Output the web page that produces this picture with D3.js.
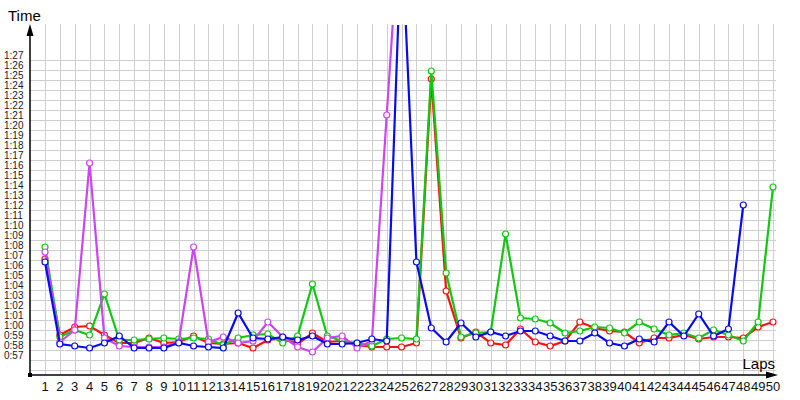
<!DOCTYPE html>
<html>
<head>
<meta charset="utf-8">
<script src="https://cdn.jsdelivr.net/npm/d3@7"></script>
<style>
  html, body { margin: 0; padding: 0; background: #fff; }
  svg { display: block; }
</style>
</head>
<body>
<svg id="chart" width="800" height="400"></svg>
<script>
// ---- data (lap times in seconds) ----
const laps = d3.range(1, 51);
const yTickValues = d3.range(57, 88); // 0:57 .. 1:27

const redTimes = [67.1, 59.5, 60.3, 60.4, 59.5, 58.7, 58.7, 59.2, 58.7, 58.8,
  59.4, 58.7, 58.6, 58.7, 58.2, 59.0, 59.2, 58.6, 59.7, 58.8,
  58.9, 58.5, 58.3, 58.3, 58.3, 58.7, 85.1, 63.9, 59.2, 59.8,
  58.7, 58.5, 60.1, 58.8, 58.4, 58.9, 60.8, 60.2, 59.9, 59.8,
  58.7, 59.2, 59.2, 59.5, 59.1, 59.3, 59.3, 59.2, 60.3, 60.8];
const greenTimes = [68.3, 59.3, 60.0, 59.5, 63.6, 59.0, 59.0, 59.1, 59.2, 59.1,
  59.2, 59.1, 58.5, 59.2, 59.5, 59.6, 58.7, 59.4, 64.6, 59.4,
  58.9, 58.7, 58.4, 59.1, 59.2, 59.1, 85.9, 65.7, 59.3, 59.7,
  59.8, 69.6, 61.2, 61.1, 60.7, 59.7, 59.9, 60.3, 60.2, 59.7,
  60.8, 60.1, 59.5, 59.7, 59.2, 60.0, 59.5, 58.9, 60.8, 74.3];
const purpleTimes = [67.8, 58.8, 60.0, 76.7, 59.2, 58.4, 58.3, 58.3, 58.3, 58.8,
  68.3, 58.8, 59.3, 58.7, 58.9, 60.8, 59.3, 58.3, 57.8, 59.2,
  59.4, 58.2, 58.9, 81.5, 104.0];
const blueTimes = [66.8, 58.6, 58.4, 58.2, 58.7, 59.4, 58.2, 58.2, 58.2, 58.7,
  58.4, 58.3, 58.2, 61.7, 59.2, 59.1, 59.3, 59.0, 59.4, 58.6,
  58.6, 58.7, 59.1, 58.9, 100.0, 66.8, 60.2, 58.8, 60.7, 59.3,
  59.8, 59.4, 59.9, 59.9, 59.4, 58.9, 58.9, 59.7, 58.7, 58.4,
  59.1, 58.8, 60.8, 59.4, 61.6, 59.4, 60.1, 72.5];

const seriesNames = ["red", "green", "purple", "blue"];
const seriesColors = ["#ff1010", "#10c810", "#cc44f4", "#0a0af0"];
const seriesValues = [redTimes, greenTimes, purpleTimes, blueTimes];

// ---- layout ----
const svg = d3.select("#chart");
const x = d3.scaleLinear().domain([1, 50]).range([45, 773]);
const y = d3.scaleLinear().domain([57, 87]).range([360, 60]);
const axisX = 30, axisY = 375, topY = 24, rightX = 778;

const fmt = v => `${Math.floor(v / 60)}:${String(v % 60).padStart(2, "0")}`;

// grid
const grid = svg.append("g").attr("stroke", "#cfcfcf").attr("stroke-width", 1).attr("shape-rendering", "crispEdges");
grid.selectAll("line.h").data(d3.range(56, 88)).join("line")
  .attr("x1", axisX).attr("x2", 776)
  .attr("y1", d => y(d)).attr("y2", d => y(d));
grid.selectAll("line.v").data(laps).join("line")
  .attr("x1", d => Math.round(x(d))).attr("x2", d => Math.round(x(d)))
  .attr("y1", topY).attr("y2", axisY);

// y tick labels
svg.append("g").selectAll("text").data(yTickValues).join("text")
  .attr("x", 4).attr("y", d => y(d) - 1.5)
  .attr("font-family", "Liberation Sans, Arial, sans-serif")
  .attr("font-size", 10).attr("fill", "#1a1a2a")
  .text(fmt);

// x tick labels
svg.append("g").selectAll("text").data(laps).join("text")
  .attr("x", d => x(d)).attr("y", 391)
  .attr("text-anchor", "middle")
  .attr("font-family", "Liberation Sans, Arial, sans-serif")
  .attr("font-size", 13).attr("fill", "#111")
  .text(d => d);

// clip for series
svg.append("defs").append("clipPath").attr("id", "plotclip")
  .append("rect").attr("x", axisX).attr("y", topY + 1).attr("width", 760).attr("height", axisY - topY);

const line = d3.line().x((d, i) => x(i + 1)).y(d => y(d));
const plot = svg.append("g").attr("clip-path", "url(#plotclip)");
seriesValues.forEach((vals, si) => {
  const g = plot.append("g");
  g.append("path").datum(vals)
    .attr("d", line)
    .attr("fill", "none")
    .attr("stroke", seriesColors[si])
    .attr("stroke-width", 2.2)
    .attr("stroke-linejoin", "miter");
  g.selectAll("circle").data(vals).join("circle")
    .attr("cx", (d, i) => x(i + 1)).attr("cy", d => y(d)).attr("r", 3)
    .attr("fill", "#fff").attr("stroke", seriesColors[si]).attr("stroke-width", 1.2);
});

// axes
const ax = svg.append("g");
ax.append("line").attr("x1", axisX).attr("x2", axisX).attr("y1", axisY).attr("y2", topY + 6)
  .attr("stroke", "#000").attr("stroke-width", 1.5);
ax.append("line").attr("x1", axisX).attr("x2", rightX - 6).attr("y1", axisY).attr("y2", axisY)
  .attr("stroke", "#000").attr("stroke-width", 1.5);
ax.append("path").attr("d", `M${axisX},${topY} L${axisX - 3.5},${topY + 12} L${axisX + 3.5},${topY + 12} Z`).attr("fill", "#000");
ax.append("path").attr("d", `M${rightX},${axisY} L${rightX - 12},${axisY - 3.5} L${rightX - 12},${axisY + 3.5} Z`).attr("fill", "#000");
ax.append("rect").attr("x", axisX - 2).attr("y", axisY - 2).attr("width", 4).attr("height", 4).attr("fill", "#000");

svg.append("text").attr("x", 8).attr("y", 21)
  .attr("font-family", "Liberation Sans, Arial, sans-serif").attr("font-size", 15).attr("fill", "#000")
  .text("Time");
svg.append("text").attr("x", 775).attr("y", 369).attr("text-anchor", "end")
  .attr("font-family", "Liberation Sans, Arial, sans-serif").attr("font-size", 15).attr("fill", "#000")
  .text("Laps");
</script>
</body>
</html>
